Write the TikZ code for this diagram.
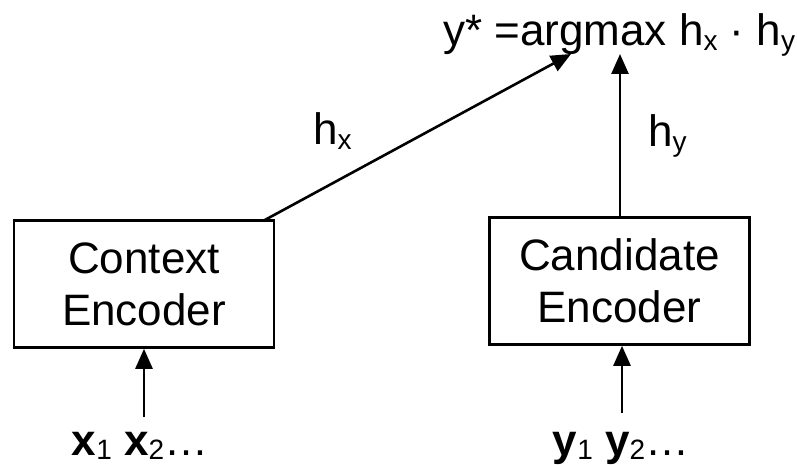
\documentclass[tikz,border=0pt]{standalone}
\usepackage{fontspec}
\setmainfont{Liberation Sans}
\usetikzlibrary{arrows.meta}
\newcommand\lowsub[1]{\raisebox{-0.1em}{\fontsize{28}{28}\selectfont #1}}
\begin{document}
\begin{tikzpicture}[x=1pt,y=-1pt,
  encbox/.style={draw,line width=2.6pt,minimum width=260pt,minimum height=127pt,
    inner sep=0pt,align=center,font=\fontsize{44}{52}\selectfont},
  lbl/.style={inner sep=0pt,font=\fontsize{44}{52}\selectfont},
  arr/.style={line width=2.6pt,-{Triangle[length=20pt,width=17pt]}}]
\useasboundingbox (0,0) rectangle (797,465);

% encoders
\node[encbox] (ctx)  at (144,284) {Context\\Encoder};
\node[encbox] (cand) at (619.5,281) {Candidate\\Encoder};

% inputs
\node[lbl,anchor=base] (xs) at (140,455) {\textbf{x}\lowsub{1} \textbf{x}\lowsub{2}…};
\node[lbl,anchor=base] (ys) at (621,455) {\textbf{y}\lowsub{1} \textbf{y}\lowsub{2}…};

% scoring formula
\node[lbl,anchor=base west] (score) at (443,46)
  {y* =argmax h\lowsub{x} · h\lowsub{y}};

% edge labels
\node[lbl,anchor=base west] (hx) at (313,145) {h\lowsub{x}};
\node[lbl,anchor=base west] (hy) at (648,147) {h\lowsub{y}};

% connection points
\coordinate (xin) at (144,417);
\coordinate (yin) at (622,413);
\coordinate (ctxout) at (263,221);
\coordinate (tipx) at (571,54);
\coordinate (tipy) at (620,54);

\draw[arr] (xin) -- (xin |- ctx.south);
\draw[arr] (yin) -- (yin |- cand.south);
\draw[arr] (ctxout) -- (tipx);
\draw[arr] (tipy |- cand.north) -- (tipy);
\end{tikzpicture}
\end{document}
